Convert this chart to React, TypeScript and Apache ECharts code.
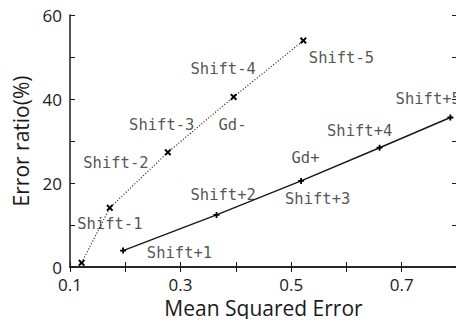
import React, { useEffect, useRef } from "react";
import * as echarts from "echarts";

// Negative shifts (dotted line with x markers)
const shiftMinusMSE = [0.121, 0.172, 0.277, 0.396, 0.522];
const shiftMinusRatio = [1.0, 14.1, 27.3, 40.5, 53.9];

// Positive shifts (solid line with + markers)
const shiftPlusMSE = [0.196, 0.365, 0.518, 0.66, 0.788];
const shiftPlusRatio = [3.9, 12.4, 20.5, 28.4, 35.6];

// Text annotations placed in data coordinates
const noteTexts = [
  "Shift-1", "Shift-2", "Shift-3", "Gd-", "Shift-4", "Shift-5",
  "Shift+1", "Shift+2", "Shift+3", "Gd+", "Shift+4", "Shift+5",
];
const noteX = [0.172, 0.183, 0.266, 0.394, 0.377, 0.591, 0.298, 0.377, 0.548, 0.526, 0.624, 0.748];
const noteY = [10.2, 24.8, 33.8, 33.8, 47.1, 49.7, 3.3, 17.1, 16.1, 25.9, 32.5, 39.9];

const xTicks = { min: 0.1, max: 0.8, interval: 0.1 };
const yTicks = { min: 0, max: 60, interval: 10 };

const crossSymbol = "path://M0,2L2,0L5,3L8,0L10,2L7,5L10,8L8,10L5,7L2,10L0,8L3,5Z";
const plusSymbol = "path://M3.5,0H6.5V3.5H10V6.5H6.5V10H3.5V6.5H0V3.5H3.5Z";

const ink = "#1a1a1a";
const sans = "'Open Sans', 'Noto Sans', sans-serif";
const mono = "'DejaVu Sans Mono', monospace";

export default function App() {
  const ref = useRef<HTMLDivElement>(null);

  useEffect(() => {
    if (!ref.current) return;
    const chart = echarts.init(ref.current, null, { renderer: "svg" });

    const frameLine = { show: true, lineStyle: { color: ink, width: 1.5 } };
    const innerTicks = { show: true, inside: true, length: 5, lineStyle: { color: ink, width: 1 } };

    chart.setOption({
      animation: false,
      backgroundColor: "#ffffff",
      grid: { left: 70, right: 7, top: 15, bottom: 60 },
      xAxis: [
        {
          type: "value",
          ...xTicks,
          position: "bottom",
          axisLine: frameLine,
          axisTick: innerTicks,
          splitLine: { show: false },
          axisLabel: {
            color: ink,
            fontFamily: sans,
            fontSize: 17,
            margin: 9,
            formatter: (v: number) => (Math.round(v * 10) % 2 === 1 ? v.toFixed(1) : ""),
          },
          name: "Mean Squared Error",
          nameLocation: "middle",
          nameGap: 30,
          nameTextStyle: { color: ink, fontFamily: sans, fontSize: 21 },
        },
        {
          type: "value",
          ...xTicks,
          position: "top",
          axisLine: frameLine,
          axisTick: innerTicks,
          splitLine: { show: false },
          axisLabel: { show: false },
        },
      ],
      yAxis: [
        {
          type: "value",
          ...yTicks,
          position: "left",
          axisLine: frameLine,
          axisTick: innerTicks,
          splitLine: { show: false },
          axisLabel: {
            color: ink,
            fontFamily: sans,
            fontSize: 17,
            margin: 8,
            formatter: (v: number) => (v % 20 === 0 ? String(v) : ""),
          },
          name: "Error ratio(%)",
          nameLocation: "middle",
          nameGap: 36,
          nameTextStyle: { color: ink, fontFamily: sans, fontSize: 21 },
        },
        {
          type: "value",
          ...yTicks,
          position: "right",
          axisLine: frameLine,
          axisTick: innerTicks,
          splitLine: { show: false },
          axisLabel: { show: false },
        },
      ],
      series: [
        {
          type: "line",
          data: shiftMinusMSE.map((x, i) => [x, shiftMinusRatio[i]]),
          symbol: crossSymbol,
          symbolSize: 7,
          itemStyle: { color: "#000" },
          lineStyle: { color: ink, width: 1.2, type: [1, 2] },
          silent: true,
        },
        {
          type: "line",
          data: shiftPlusMSE.map((x, i) => [x, shiftPlusRatio[i]]),
          symbol: plusSymbol,
          symbolSize: 6,
          itemStyle: { color: "#000" },
          lineStyle: { color: ink, width: 1.5 },
          silent: true,
        },
        {
          type: "scatter",
          data: noteTexts.map((t, i) => ({ name: t, value: [noteX[i], noteY[i]] })),
          symbolSize: 0,
          silent: true,
          label: {
            show: true,
            position: "inside",
            formatter: (p: any) => p.name,
            color: "#262626",
            fontFamily: mono,
            fontSize: 15.5,
          },
        },
      ],
    });

    return () => chart.dispose();
  }, []);

  return <div ref={ref} style={{ width: 464, height: 327, margin: -8 }} />;
}
